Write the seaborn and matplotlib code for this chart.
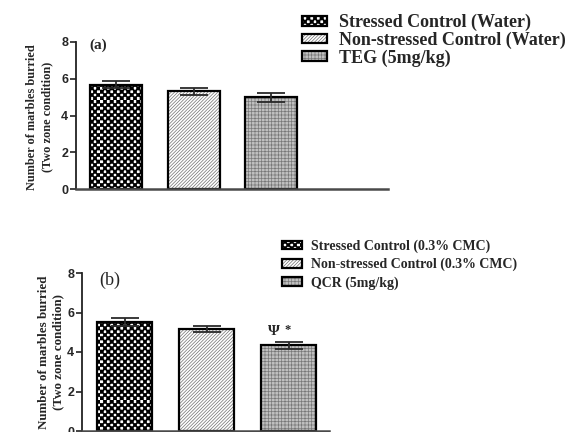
import numpy as np
import pandas as pd
import matplotlib
matplotlib.use("Agg")
import matplotlib.pyplot as plt
import matplotlib.hatch as mhatch
import matplotlib.patches as mpatches
from matplotlib.path import Path
from matplotlib.colors import to_rgba
import seaborn as sns

# ---- data -------------------------------------------------------------
groups_a = ["Stressed Control (Water)", "Non-stressed Control (Water)", "TEG (5mg/kg)"]
means_a = [5.68, 5.32, 5.00]
sem_a = [0.20, 0.19, 0.25]

groups_b = ["Stressed Control (0.3% CMC)", "Non-stressed Control (0.3% CMC)", "QCR (5mg/kg)"]
means_b = [5.50, 5.17, 4.34]
sem_b = [0.20, 0.15, 0.17]

ylabel_text = "Number of marbles burried\n(Two zone condition)"
yticks = [0, 2, 4, 6, 8]


# ---- checkerboard hatch (replaces the large-circle 'O' pattern) -------
class CheckerHatch(mhatch.HatchPatternBase):
    def __init__(self, hatch, density):
        self.num_rows = int(5 * hatch.count("O") * density // 6)
        self.num_vertices = self.num_rows * self.num_rows * 10

    def set_vertices_and_codes(self, vertices, codes):
        n = self.num_rows
        step = 1.0 / n
        half = step / 2.0
        sq = np.array([[0, 0], [half, 0], [half, half], [0, half], [0, 0]])
        sq_codes = [Path.MOVETO, Path.LINETO, Path.LINETO, Path.LINETO, Path.CLOSEPOLY]
        parts = []
        for i in range(n):
            for j in range(n):
                parts.append(sq + [i * step, j * step])
                parts.append(sq + [i * step + half, j * step + half])
        vertices[:] = np.concatenate(parts)
        codes[:] = np.tile(sq_codes, 2 * n * n)


mhatch._hatch_types[mhatch._hatch_types.index(mhatch.LargeCircles)] = CheckerHatch

# fill styles for the three groups: (facecolor, hatch, hatch colour)
styles = [
    ("white", "OOO", "black"),
    ("white", "//////////", "#707070"),
    ("#c0c0c0", "+++++", "#787878"),
]

sns.set_style("ticks")
plt.rcParams["font.family"] = ["Liberation Sans", "DejaVu Sans"]
plt.rcParams["hatch.linewidth"] = 0.5

fig = plt.figure(figsize=(5.71, 4.32), dpi=100)
W, H = 571.0, 432.0
ax1 = fig.add_axes([76 / W, 1 - 189 / H, (388 - 76) / W, (189 - 42) / H])
ax2 = fig.add_axes([82 / W, 1 - 431 / H, (329 - 82) / W, (431 - 273) / H])


def style_bars(ax):
    for patch, (fc, hatch, hc) in zip(ax.patches, styles):
        patch.set_facecolor(fc)
        patch.set_edgecolor("black")
        patch.set_linewidth(1.6)
        patch.set_hatch(hatch)
        patch._hatch_color = to_rgba(hc)


def draw_panel(ax, groups, means, sems, xlim, ylabel_size, label_x, label_y):
    df = pd.DataFrame({"group": groups, "value": means})
    sns.barplot(data=df, x="group", y="value", ax=ax, width=0.67,
                color="white", errorbar=None)
    style_bars(ax)
    ax.errorbar(np.arange(len(means)), means, yerr=sems, fmt="none",
                ecolor="#2a2a2a", elinewidth=1.3, capsize=10, capthick=1.3,
                zorder=5)
    ax.set_xlim(*xlim)
    ax.set_ylim(0, 8)
    ax.set_yticks(yticks)
    ax.set_xticks([])
    ax.set_xlabel("")
    ax.set_ylabel(ylabel_text, family=["Liberation Serif"], fontweight="bold",
                  fontsize=ylabel_size, linespacing=1.3)
    ax.yaxis.set_label_coords(label_x, label_y)
    ax.tick_params(axis="y", length=4, width=1.2, labelsize=9, pad=1.5,
                   color="#222222")
    plt.setp(ax.get_yticklabels(), fontweight="bold")
    sns.despine(ax=ax)
    ax.spines["left"].set_linewidth(1.3)
    ax.spines["left"].set_color("#222222")
    ax.spines["bottom"].set_linewidth(1.8)
    ax.spines["bottom"].set_color("#4a4a4a")
    ax.set_facecolor("none")


draw_panel(ax1, groups_a, means_a, sem_a, (-0.52, 3.51), 8.8, -0.074, 0.49)
draw_panel(ax2, groups_b, means_b, sem_b, (-0.52, 2.49), 9.4, -0.072, 0.5)

# panel tags
ax1.text(0.043, 0.98, "(a)", transform=ax1.transAxes, family=["Liberation Serif"],
         fontweight="bold", fontsize=11, va="center", ha="left")
ax2.text(0.07, 0.955, "(b)", transform=ax2.transAxes, family=["Liberation Serif"],
         fontsize=13, va="center", ha="left")

# significance marks over the QCR bar
top_b = means_b[2] + sem_b[2]
ax2.annotate("\u03a8", xy=(2, top_b), xytext=(-11, 3), textcoords="offset points",
             family=["Liberation Serif"], fontweight="bold", fontsize=11,
             ha="center", va="bottom")
ax2.annotate("*", xy=(2, top_b), xytext=(-1, 4), textcoords="offset points",
             family=["Liberation Serif"], fontweight="bold", fontsize=9,
             ha="center", va="bottom")


def legend_handles(ax):
    handles = []
    for patch in ax.patches[:3]:
        h = mpatches.Patch()
        h.update_from(patch)
        handles.append(h)
    return handles


fig.legend(legend_handles(ax1), groups_a, loc="upper left",
           bbox_to_anchor=(302 / W, 1 - 14 / H), frameon=False,
           prop={"family": "Liberation Serif", "weight": "bold", "size": 13},
           handlelength=1.4, handleheight=0.45, handletextpad=0.65,
           labelspacing=0.02, borderpad=0, borderaxespad=0)

fig.legend(legend_handles(ax2), groups_b, loc="upper left",
           bbox_to_anchor=(282 / W, 1 - 239.5 / H), frameon=False,
           prop={"family": "Liberation Serif", "weight": "bold", "size": 10},
           handlelength=1.45, handleheight=0.6, handletextpad=0.65,
           labelspacing=0.35, borderpad=0, borderaxespad=0)

fig.savefig("out.png", dpi=100)
